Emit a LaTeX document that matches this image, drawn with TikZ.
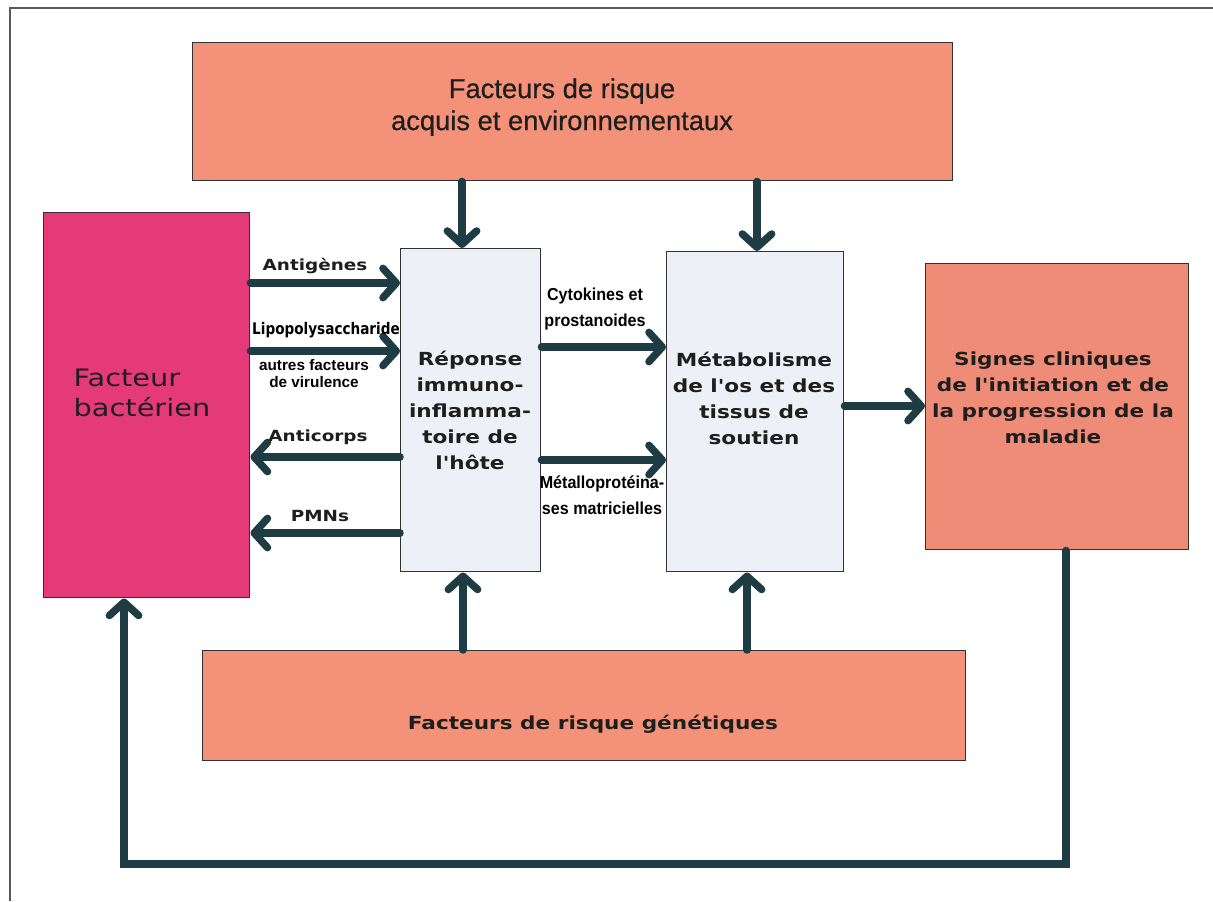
\documentclass[tikz,border=0pt]{standalone}
\usepackage{fontspec}
\usetikzlibrary{arrows.meta}
\newfontfamily\boxf[FakeStretch=1.2]{DejaVu Sans}
\newfontfamily\topf[FakeBold=0.6]{Liberation Sans}
\newfontfamily\narrf[FakeStretch=0.93]{Liberation Sans}
\newfontfamily\virf{Liberation Sans}
\newfontfamily\lipof[FakeStretch=0.85]{DejaVu Sans}
\definecolor{salmon}{RGB}{243,146,121}
\definecolor{salmonb}{RGB}{238,140,120}
\definecolor{bactc}{RGB}{228,58,120}
\definecolor{pale}{RGB}{238,240,248}
\definecolor{arrc}{RGB}{30,60,68}
\definecolor{bord}{RGB}{50,50,50}
\definecolor{txt}{RGB}{30,30,30}
\begin{document}
\begin{tikzpicture}[x=0.75pt,y=-0.75pt,
  boxst/.style={draw=bord,line width=1.1pt,inner sep=0pt,anchor=north west},
  arr/.style={draw=arrc,line width=5.6pt,line cap=round,-{Straight Barb[length=10pt,width=22pt,round]}},
  boxtxt/.style={font=\boxf\bfseries\fontsize{13.5}{19.5}\selectfont,text=txt,align=center,inner sep=0pt},
  lbl/.style={font=\boxf\bfseries\fontsize{11.5}{14}\selectfont,text=txt,inner sep=0pt},
  nlbl/.style={font=\narrf\bfseries\fontsize{13}{19.5}\selectfont,text=black,align=center,inner sep=0pt},
]
\useasboundingbox (0,0) rectangle (1213,901);
\fill[white] (0,0) rectangle (1213,901);
\draw[line width=1.5pt,draw=black!65] (10,901) -- (10,8) -- (1213,8);

% boxes
\node[boxst,fill=salmon,minimum width=570pt,minimum height=103.5pt] (top) at (192,42) {};
\node[boxst,fill=bactc,minimum width=154.5pt,minimum height=288.75pt] (bact) at (43,212) {};
\node[boxst,fill=pale,minimum width=105pt,minimum height=242.25pt] (rep) at (400,248) {};
\node[boxst,fill=pale,minimum width=132.75pt,minimum height=240pt] (met) at (666,251) {};
\node[boxst,fill=salmonb,minimum width=197.25pt,minimum height=214.5pt] (sig) at (925,263) {};
\node[boxst,fill=salmon,minimum width=572.25pt,minimum height=82.5pt] (gen) at (202,650) {};

% box texts
\node[font=\topf\fontsize{20.5}{24}\selectfont,text=txt,align=center,inner sep=0pt] (ttop) at (562,107) {Facteurs de risque\\acquis et environnementaux};
\node[font=\boxf\fontsize{18}{22.5}\selectfont,text=txt,align=left,inner sep=0pt] (tbact) at (142,393) {Facteur\\bactérien};
\node[boxtxt] (trep) at (470,410) {Réponse\\immuno-\\inflamma-\\toire de\\l'hôte};
\node[boxtxt] (tmet) at (754,398) {Métabolisme\\de l'os et des\\tissus de\\soutien};
\node[boxtxt] (tsig) at (1053,398) {Signes cliniques\\de l'initiation et de\\la progression de la\\maladie};
\node[boxtxt] (tgen) at (593,724) {Facteurs de risque génétiques};

% arrows
\draw[arr] (top.south -| 462,0) -- (rep.north -| 462,0);
\draw[arr] (top.south -| 757,0) -- (met.north -| 757,0);
\draw[arr] (bact.east |- 0,283) -- (rep.west |- 0,283);
\draw[arr] (bact.east |- 0,351) -- (rep.west |- 0,351);
\draw[arr] (rep.west |- 0,457) -- (bact.east |- 0,457);
\draw[arr] (rep.west |- 0,533) -- (bact.east |- 0,533);
\draw[arr] (rep.east |- 0,347) -- (met.west |- 0,347);
\draw[arr] (rep.east |- 0,460) -- (met.west |- 0,460);
\draw[arr] (met.east |- 0,406) -- (sig.west |- 0,406);
\draw[arr] (gen.north -| 463,0) -- (rep.south -| 463,0);
\draw[arr] (gen.north -| 747,0) -- (met.south -| 747,0);
\coordinate (fb) at (124,864);
\draw[arr,line join=miter] (sig.south -| 1066,0) |- (fb) -- (bact.south -| fb);

% labels
\node[lbl] (lag) at (315,266) {Antigènes};
\node[font=\lipof\bfseries\fontsize{12}{14}\selectfont,text=black,inner sep=0pt] (llps) at (326,330) {Lipopolysaccharide};
\node[font=\virf\bfseries\fontsize{11.5}{12.75}\selectfont,text=black,align=center,inner sep=0pt] (lvir) at (314,374) {autres facteurs\\de virulence};
\node[lbl] (lac) at (318,437) {Anticorps};
\node[lbl] (lpmn) at (320,516) {PMNs};
\node[nlbl] (lcyt) at (595,309) {Cytokines et\\prostanoides};
\node[nlbl] (lmmp) at (602,495) {Métalloprotéina-\\ses matricielles};
\end{tikzpicture}
\end{document}
